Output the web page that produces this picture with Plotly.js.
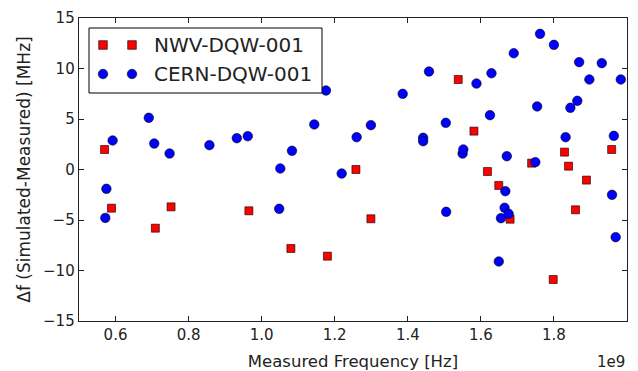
<!DOCTYPE html>
<html>
<head>
<meta charset="utf-8">
<script src="https://cdn.plot.ly/plotly-3.0.1.min.js"></script>
<style>html,body{margin:0;padding:0;background:#fff;}#chart{width:638px;height:371px;}</style>
</head>
<body>
<div id="chart"></div>
<script>
// NWV-DQW-001 (red squares): measured frequency [Hz], delta f [MHz]
var nwvFreq = [0.570e9, 0.589e9, 0.709e9, 0.752e9, 0.965e9, 1.080e9, 1.180e9, 1.258e9, 1.299e9, 1.538e9,
               1.581e9, 1.618e9, 1.649e9, 1.680e9, 1.739e9, 1.798e9, 1.829e9, 1.840e9, 1.859e9, 1.889e9, 1.958e9];
var nwvDelta = [1.98, -3.83, -5.81, -3.70, -4.09, -7.82, -8.58, 0.00, -4.88, 8.91,
                3.80, -0.20, -1.58, -4.92, 0.63, -10.89, 1.72, 0.33, -3.99, -1.05, 1.98];

// CERN-DQW-001 (blue circles)
var cernFreq = [0.572e9, 0.575e9, 0.592e9, 0.691e9, 0.706e9, 0.748e9, 0.857e9, 0.932e9, 0.962e9, 1.048e9,
                1.051e9, 1.083e9, 1.144e9, 1.176e9, 1.219e9, 1.260e9, 1.299e9, 1.386e9, 1.442e9, 1.442e9,
                1.458e9, 1.504e9, 1.505e9, 1.550e9, 1.552e9, 1.588e9, 1.625e9, 1.629e9, 1.649e9, 1.655e9,
                1.665e9, 1.667e9, 1.671e9, 1.676e9, 1.690e9, 1.749e9, 1.754e9, 1.762e9, 1.800e9, 1.832e9,
                1.845e9, 1.864e9, 1.869e9, 1.897e9, 1.931e9, 1.959e9, 1.964e9, 1.969e9, 1.983e9];
var cernDelta = [-4.79, -1.91, 2.87, 5.12, 2.57, 1.58, 2.41, 3.10, 3.30, -3.89,
                 0.10, 1.85, 4.46, 7.82, -0.40, 3.20, 4.39, 7.49, 3.14, 2.80,
                 9.70, 4.62, -4.19, 1.58, 1.98, 8.51, 5.38, 9.53, -9.11, -4.82,
                 -3.79, -2.15, 1.32, -4.39, 11.51, 0.73, 6.24, 13.43, 12.34, 3.20,
                 6.11, 6.80, 10.63, 8.91, 10.53, -2.51, 3.33, -6.70, 8.91];

var seriesNames = ['NWV-DQW-001', 'CERN-DQW-001'];
var xTickVals = [0.6e9, 0.8e9, 1.0e9, 1.2e9, 1.4e9, 1.6e9, 1.8e9, 2.0e9];
var xTickText = ['0.6', '0.8', '1.0', '1.2', '1.4', '1.6', '1.8', '2.0'];
var yTickVals = [-15, -10, -5, 0, 5, 10, 15];

var txt = '#222222';
var fontFam = 'DejaVu Sans, sans-serif';
var redStyle = {color: '#ff0000', line: {color: '#000', width: 0.6}};
var blueStyle = {color: '#0000ff', line: {color: '#000', width: 0.6}};

var traces = [
  {
    x: nwvFreq, y: nwvDelta, name: seriesNames[0], type: 'scatter', mode: 'markers',
    marker: {symbol: 'square', size: 8, color: redStyle.color, line: redStyle.line}
  },
  {
    x: cernFreq, y: cernDelta, name: seriesNames[1], type: 'scatter', mode: 'markers',
    marker: {symbol: 'circle', size: 9.5, color: blueStyle.color, line: blueStyle.line}
  }
];

// matplotlib-style legend (two sample markers per entry), placed in plot-area pixels
var plotL = 79, plotW = 548, plotB = 321, plotH = 303;
function px(x) { return (x - plotL) / plotW; }
function py(y) { return (plotB - y) / plotH; }

var shapes = [
  {type: 'rect', xref: 'paper', yref: 'paper', layer: 'above',
   x0: px(89), x1: px(322), y0: py(93), y1: py(28),
   line: {color: '#000', width: 1}, fillcolor: '#fff'}
];
[103, 132].forEach(function (cx) {
  shapes.push({type: 'rect', xref: 'paper', yref: 'paper', layer: 'above',
    xsizemode: 'pixel', ysizemode: 'pixel', xanchor: px(cx), yanchor: py(45),
    x0: -4.3, x1: 4.3, y0: -4.3, y1: 4.3, fillcolor: redStyle.color, line: redStyle.line});
  shapes.push({type: 'circle', xref: 'paper', yref: 'paper', layer: 'above',
    xsizemode: 'pixel', ysizemode: 'pixel', xanchor: px(cx), yanchor: py(74),
    x0: -4.75, x1: 4.75, y0: -4.75, y1: 4.75, fillcolor: blueStyle.color, line: blueStyle.line});
});

var layout = {
  width: 638, height: 371,
  margin: {l: 79, r: 11, t: 18, b: 50},
  paper_bgcolor: '#fff', plot_bgcolor: '#fff',
  font: {family: fontFam, color: txt},
  showlegend: false,
  xaxis: {
    range: [0.5e9, 2.0e9], tickmode: 'array', tickvals: xTickVals, ticktext: xTickText,
    ticks: 'inside', ticklen: 5, tickcolor: '#222', tickwidth: 1,
    showline: true, linecolor: '#222', linewidth: 1.3, mirror: 'ticks',
    showgrid: false, zeroline: false,
    tickfont: {size: 15, family: fontFam, color: txt},
    title: {text: 'Measured Frequency [Hz]', font: {size: 16.5, family: fontFam, color: txt}, standoff: 14}
  },
  yaxis: {
    range: [-15, 15], tickmode: 'array', tickvals: yTickVals,
    ticks: 'inside', ticklen: 5, tickcolor: '#222', tickwidth: 1,
    showline: true, linecolor: '#222', linewidth: 1.3, mirror: 'ticks',
    showgrid: false, zeroline: false,
    tickfont: {size: 15, family: fontFam, color: txt},
    title: {text: 'Δf (Simulated-Measured) [MHz]', font: {size: 17, family: fontFam, color: txt}, standoff: 8}
  },
  shapes: shapes,
  annotations: [
    {text: '1e9', xref: 'paper', yref: 'paper', x: 1, y: 0, xanchor: 'right', yanchor: 'middle',
     yshift: -41, showarrow: false, font: {size: 15, family: fontFam, color: txt}},
    {text: seriesNames[0], xref: 'paper', yref: 'paper', x: px(154), y: py(45), xanchor: 'left', yanchor: 'middle',
     xshift: -2, showarrow: false, font: {size: 20, family: fontFam, color: txt}},
    {text: seriesNames[1], xref: 'paper', yref: 'paper', x: px(154), y: py(74), xanchor: 'left', yanchor: 'middle',
     xshift: -2, showarrow: false, font: {size: 20, family: fontFam, color: txt}}
  ]
};

Plotly.newPlot('chart', traces, layout, {displayModeBar: false, staticPlot: true});
</script>
</body>
</html>
